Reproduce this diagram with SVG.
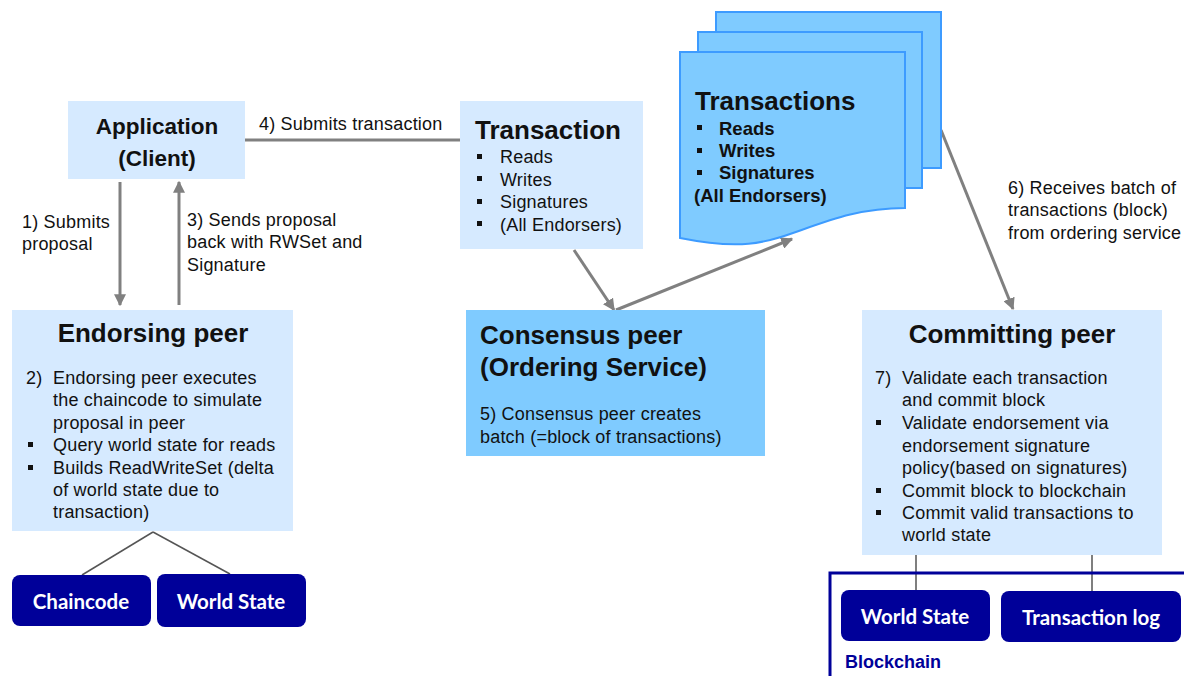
<svg xmlns="http://www.w3.org/2000/svg" width="1184" height="676" viewBox="0 0 1184 676">
<defs>
<marker id="ah" viewBox="0 0 10 10" refX="9" refY="5" markerWidth="4" markerHeight="4" orient="auto" markerUnits="strokeWidth">
<path d="M0,0 L10,5 L0,10 z" fill="#808080"/>
</marker>
<style>
text{font-family:"Liberation Sans",Arial,sans-serif;fill:#111}
.t{font-size:18px;letter-spacing:0.2px}
.h{font-size:26px;font-weight:bold}
.hb{font-size:18.5px;font-weight:bold}
.lt{fill:#d6eaff}
.dk{fill:#7fcbff}
.nv{fill:#000099}
.nt{font-family:Lato,"Open Sans",sans-serif;font-weight:bold;font-size:20.5px;fill:#fff}
.ar{stroke:#808080;stroke-width:3;fill:none}
.ln{stroke:#555;stroke-width:1.5;fill:none}
.pg{fill:#7fcbff;stroke:#3d9bff;stroke-width:2}
</style>
</defs>
<rect width="1184" height="676" fill="#fff"/>

<g id="connectors">
<line class="ar" x1="120" y1="182" x2="120" y2="305" marker-end="url(#ah)"/>
<line class="ar" x1="179" y1="305" x2="179" y2="182" marker-end="url(#ah)"/>
<line class="ar" x1="245" y1="140" x2="460" y2="140"/>
<line class="ar" x1="574" y1="250" x2="614" y2="310" marker-end="url(#ah)"/>
<line class="ar" x1="616" y1="310" x2="792" y2="239" marker-end="url(#ah)"/>
<line class="ar" x1="941" y1="130" x2="1013" y2="309" marker-end="url(#ah)"/>
<line class="ln" x1="153" y1="532" x2="82" y2="575"/>
<line class="ln" x1="153" y1="532" x2="230" y2="574"/>
<line class="ln" x1="916" y1="555" x2="916" y2="590"/>
<line class="ln" x1="1092" y1="555" x2="1092" y2="591"/>
<text class="t" x="259" y="130">4) Submits transaction</text>
<text class="t" x="22" y="228">1) Submits</text>
<text class="t" x="22" y="250">proposal</text>
<text class="t" x="187" y="226">3) Sends proposal</text>
<text class="t" x="187" y="248">back with RWSet and</text>
<text class="t" x="187" y="271">Signature</text>
<text class="t" x="1008" y="194">6) Receives batch of</text>
<text class="t" x="1008" y="216">transactions (block)</text>
<text class="t" x="1008" y="239">from ordering service</text>
</g>

<g id="application">
<rect class="lt" x="68" y="101" width="177" height="78"/>
<text x="157" y="134" text-anchor="middle" style="font-size:22.5px;font-weight:bold">Application</text>
<text x="157" y="166" text-anchor="middle" style="font-size:22.5px;font-weight:bold">(Client)</text>
</g>

<g id="transaction">
<rect class="lt" x="460" y="101" width="183" height="148"/>
<text class="h" x="475" y="139">Transaction</text>
<rect x="477" y="154" width="5" height="5" fill="#111"/>
<rect x="477" y="176" width="5" height="5" fill="#111"/>
<rect x="477" y="199" width="5" height="5" fill="#111"/>
<rect x="477" y="221" width="5" height="5" fill="#111"/>
<text class="t" x="500" y="163">Reads</text>
<text class="t" x="500" y="186">Writes</text>
<text class="t" x="500" y="208">Signatures</text>
<text class="t" x="500" y="231">(All Endorsers)</text>
</g>

<g id="transactions">
<rect class="pg" x="716" y="12" width="225" height="156"/>
<rect class="pg" x="698" y="32" width="224" height="156"/>
<path class="pg" d="M680,52 L905,52 L905,208 C860,208 830,220 793,233 C765,243 740,250 680,238 Z"/>
<text class="h" x="695" y="110">Transactions</text>
<rect x="697" y="125" width="5" height="5" fill="#111"/>
<rect x="697" y="148" width="5" height="5" fill="#111"/>
<rect x="697" y="170" width="5" height="5" fill="#111"/>
<text class="hb" x="719" y="135">Reads</text>
<text class="hb" x="719" y="157">Writes</text>
<text class="hb" x="719" y="179">Signatures</text>
<text class="hb" x="694" y="202">(All Endorsers)</text>
</g>

<g id="consensus">
<rect class="dk" x="466" y="310" width="299" height="146"/>
<text class="h" x="480" y="344">Consensus peer</text>
<text class="h" x="480" y="376">(Ordering Service)</text>
<text class="t" x="480" y="420">5) Consensus peer creates</text>
<text class="t" x="480" y="443">batch (=block of transactions)</text>
</g>

<g id="endorsing">
<rect class="lt" x="12" y="310" width="281" height="221"/>
<text class="h" x="153" y="342" text-anchor="middle">Endorsing peer</text>
<text class="t" x="26" y="384">2)</text>
<text class="t" x="53" y="384">Endorsing peer executes</text>
<text class="t" x="53" y="406">the chaincode to simulate</text>
<text class="t" x="53" y="429">proposal in peer</text>
<rect x="28" y="442" width="5" height="5" fill="#111"/>
<rect x="28" y="465" width="5" height="5" fill="#111"/>
<text class="t" x="53" y="451">Query world state for reads</text>
<text class="t" x="53" y="474">Builds ReadWriteSet (delta</text>
<text class="t" x="53" y="496">of world state due to</text>
<text class="t" x="53" y="518">transaction)</text>
</g>

<g id="chaincode">
<rect class="nv" x="12" y="575" width="139" height="51" rx="8"/>
<text class="nt" x="81" y="609" text-anchor="middle">Chaincode</text>
</g>
<g id="worldstate1">
<rect class="nv" x="157" y="574" width="149" height="53" rx="8"/>
<text class="nt" x="231" y="609" text-anchor="middle">World State</text>
</g>

<g id="committing">
<rect class="lt" x="862" y="310" width="300" height="245"/>
<text class="h" x="1012" y="343" text-anchor="middle">Committing peer</text>
<text class="t" x="875" y="384">7)</text>
<text class="t" x="902" y="384">Validate each transaction</text>
<text class="t" x="902" y="406">and commit block</text>
<rect x="876" y="420" width="5" height="5" fill="#111"/>
<rect x="876" y="488" width="5" height="5" fill="#111"/>
<rect x="876" y="510" width="5" height="5" fill="#111"/>
<text class="t" x="902" y="429">Validate endorsement via</text>
<text class="t" x="902" y="452">endorsement signature</text>
<text class="t" x="902" y="474">policy(based on signatures)</text>
<text class="t" x="902" y="497">Commit block to blockchain</text>
<text class="t" x="902" y="519">Commit valid transactions to</text>
<text class="t" x="902" y="541">world state</text>
</g>

<g id="blockchain">
<path d="M830,676 L830,573 L1184,573" fill="none" stroke="#000099" stroke-width="3"/>
<text x="845" y="668" style="font-size:18px;font-weight:bold;fill:#000099">Blockchain</text>
</g>
<g id="worldstate2">
<rect class="nv" x="841" y="590" width="149" height="51" rx="8"/>
<text class="nt" x="915" y="624" text-anchor="middle">World State</text>
</g>
<g id="txlog">
<rect class="nv" x="1001" y="591" width="180" height="51" rx="8"/>
<text class="nt" x="1091" y="625" text-anchor="middle">Transaction log</text>
</g>
</svg>
